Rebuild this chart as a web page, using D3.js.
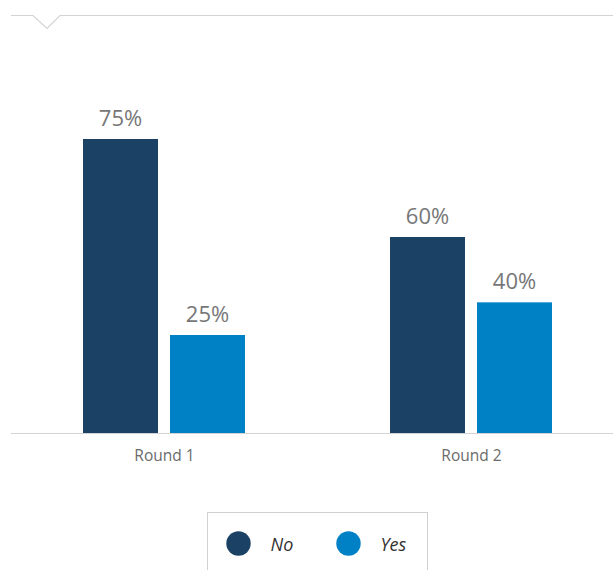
<!DOCTYPE html>
<html>
<head>
<meta charset="utf-8">
<script src="https://cdn.jsdelivr.net/npm/d3@7"></script>
<style>
  html, body { margin: 0; padding: 0; background: #fff; }
  svg { display: block; font-family: "Open Sans", sans-serif; }
</style>
</head>
<body>
<svg id="chart" width="613" height="570"></svg>
<script>
// Survey answers per round
const rounds = ["Round 1", "Round 2"];
const seriesNames = ["No", "Yes"];
const noValues = [75, 60];
const yesValues = [25, 40];
// Each round is scaled against its own ceiling
const roundScaleMax = [100, 120];

const colors = { "No": "#1b4264", "Yes": "#0081c6" };

const W = 613, H = 570;
const baseY = 433, topY = 41;
const svg = d3.select("#chart");

// Header rule with a small notch
const lineColor = "#d3d3d3";
svg.append("path")
  .attr("d", "M11,15.5 L33,15.5 L47,28.5 L60,15.5 L613,15.5")
  .attr("fill", "none")
  .attr("stroke", lineColor)
  .attr("stroke-width", 1.2);

const x0 = d3.scalePoint().domain(rounds).range([10.5, 624.5]).padding(0.5);
const x1 = d3.scaleBand().domain(seriesNames).range([-81, 81])
  .paddingInner(12 / 87).paddingOuter(0);

const valuesBySeries = { "No": noValues, "Yes": yesValues };

rounds.forEach((r, i) => {
  const y = d3.scaleLinear().domain([0, roundScaleMax[i]]).range([baseY, topY]);
  const g = svg.append("g").attr("transform", `translate(${x0(r)},0)`);
  seriesNames.forEach(s => {
    const v = valuesBySeries[s][i];
    g.append("rect")
      .attr("x", x1(s))
      .attr("y", y(v))
      .attr("width", x1.bandwidth())
      .attr("height", baseY - y(v))
      .attr("fill", colors[s]);
    g.append("text")
      .attr("x", x1(s) + x1.bandwidth() / 2)
      .attr("y", y(v) - 13)
      .attr("text-anchor", "middle")
      .attr("font-size", 22)
      .attr("fill", "#777")
      .text(v + "%");
  });
});

// Category axis
const axis = svg.append("g").attr("transform", `translate(0,${baseY})`)
  .call(d3.axisBottom(x0).tickSize(0).tickPadding(17));
axis.select(".domain").remove();
axis.append("line")
  .attr("x1", 11).attr("x2", 613).attr("y1", 0.5).attr("y2", 0.5)
  .attr("stroke", lineColor).attr("stroke-width", 1.2);
axis.selectAll(".tick text")
  .attr("font-family", "Open Sans, sans-serif")
  .attr("font-size", 15.5)
  .attr("fill", "#6b6b6b");

// Legend
const legend = svg.append("g");
legend.append("rect")
  .attr("x", 207.5).attr("y", 512.5)
  .attr("width", 220).attr("height", 80)
  .attr("fill", "#fff").attr("stroke", "#d0d0d0");
const legendX = d3.scalePoint().domain(seriesNames).range([238.5, 348.5]);
seriesNames.forEach(s => {
  legend.append("circle")
    .attr("cx", legendX(s)).attr("cy", 543.5).attr("r", 12.2)
    .attr("fill", colors[s]);
  legend.append("text")
    .attr("x", legendX(s) + 32).attr("y", 550.5)
    .attr("font-size", 18).attr("font-style", "italic")
    .attr("fill", "#333")
    .text(s);
});
</script>
</body>
</html>
